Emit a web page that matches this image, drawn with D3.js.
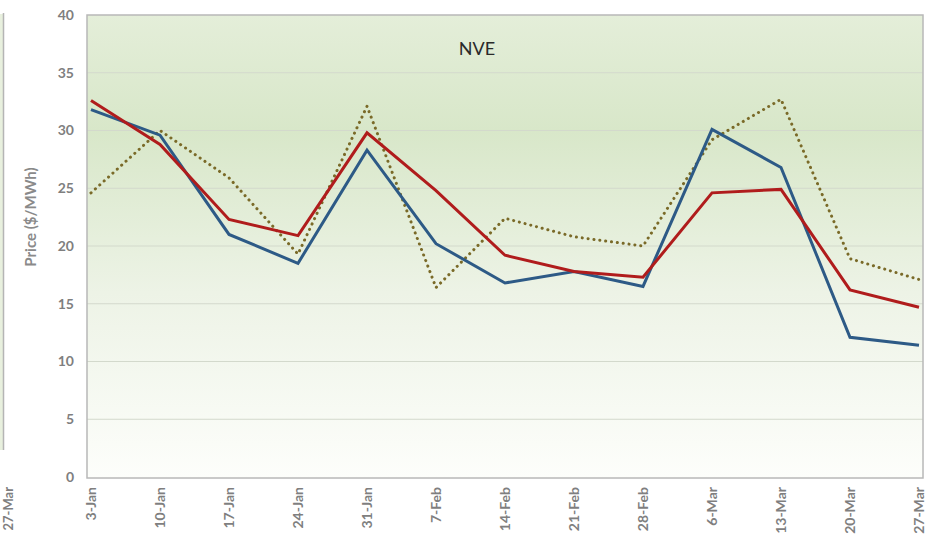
<!DOCTYPE html>
<html><head><meta charset="utf-8">
<script src="https://cdn.jsdelivr.net/npm/d3@7"></script>
<style>body{margin:0;background:#fff;overflow:hidden}svg{display:block}</style>
</head><body>
<svg id="c" width="932" height="540"></svg>
<script>
const categories = ["3-Jan","10-Jan","17-Jan","24-Jan","31-Jan","7-Feb","14-Feb","21-Feb","28-Feb","6-Mar","13-Mar","20-Mar","27-Mar"];
const blueSeries = [31.8,29.6,21.0,18.5,28.3,20.2,16.8,17.8,16.5,30.1,26.8,12.1,11.4];
const redSeries = [32.6,28.8,22.3,20.9,29.8,24.8,19.2,17.8,17.3,24.6,24.9,16.2,14.7];
const dottedSeries = [24.6,30.0,25.9,19.3,32.1,16.4,22.4,20.8,20.0,29.2,32.7,18.9,17.1];
const yTicks = [0,5,10,15,20,25,30,35,40];
const title = "NVE";
const yTitle = "Price ($/MWh)";

const svg = d3.select("#c");
const plot = {left:87, top:15, right:923, bottom:478};
const x = d3.scalePoint().domain(categories).range([91, 919]);
const y = d3.scaleLinear().domain([0,40]).range([477, 15]);
const font = "Lato, 'Open Sans', sans-serif";

// left fragment of neighbouring chart
svg.append("rect").attr("x",0).attr("y",14).attr("width",3).attr("height",436).attr("fill","#e8f0de");
svg.append("line").attr("x1",3.5).attr("x2",3.5).attr("y1",13).attr("y2",450).attr("stroke","#b5b5b5").attr("stroke-width",1.5);
svg.append("text").attr("transform","translate(8,487) rotate(-90)").attr("text-anchor","end")
  .attr("dy","0.35em").attr("font-family",font).attr("font-weight","bold").attr("font-size",13)
  .attr("fill","#7f7f7f").text("27-Mar");

const defs = svg.append("defs");
const g = defs.append("linearGradient").attr("id","bg").attr("x1",0).attr("x2",0).attr("y1",0).attr("y2",1);
g.append("stop").attr("offset","0%").attr("stop-color","#e4eed9");
g.append("stop").attr("offset","25%").attr("stop-color","#d8e7c9");
g.append("stop").attr("offset","60%").attr("stop-color","#edf3e6");
g.append("stop").attr("offset","100%").attr("stop-color","#fdfefb");

svg.append("rect").attr("x",plot.left).attr("y",plot.top)
  .attr("width",plot.right-plot.left).attr("height",plot.bottom-plot.top)
  .attr("fill","url(#bg)");

// gridlines
svg.append("g").selectAll("line").data(yTicks.filter(d=>d>0 && d<40)).join("line")
  .attr("x1",plot.left).attr("x2",plot.right)
  .attr("y1",d=>y(d)).attr("y2",d=>y(d))
  .attr("stroke","#d3d9cc").attr("stroke-width",1.2);

svg.append("rect").attr("x",plot.left).attr("y",plot.top)
  .attr("width",plot.right-plot.left).attr("height",plot.bottom-plot.top)
  .attr("fill","none").attr("stroke","#b8b8b8").attr("stroke-width",1.5);

// y axis
const yAxis = svg.append("g").attr("transform","translate(74,0)")
  .call(d3.axisLeft(y).tickValues(yTicks).tickSize(0).tickPadding(0));
yAxis.select(".domain").remove();
yAxis.selectAll("text").attr("font-family",font).attr("font-weight","bold")
  .attr("font-size",14).attr("fill","#7f7f7f");

// x axis
const xAxis = svg.append("g").attr("transform","translate(0,487)")
  .call(d3.axisBottom(x).tickSize(0).tickPadding(0));
xAxis.select(".domain").remove();
xAxis.selectAll("text").attr("font-family",font).attr("font-weight","bold")
  .attr("font-size",14).attr("fill","#7f7f7f")
  .attr("transform","rotate(-90)").attr("text-anchor","end")
  .attr("x",0).attr("y",0).attr("dy","0.35em").attr("dx","0");

// titles
svg.append("text").attr("x",477).attr("y",55).attr("text-anchor","middle")
  .attr("font-family",font).attr("font-size",18).attr("fill","#2a2a2a").text(title);
svg.append("text").attr("transform","translate(31,217) rotate(-90)").attr("text-anchor","middle")
  .attr("dy","0.35em").attr("font-family",font).attr("font-weight","bold").attr("font-size",15)
  .attr("fill","#8a8a8a").text(yTitle);

const line = d3.line().x((d,i)=>x(categories[i])).y(d=>y(d));
svg.append("path").datum(dottedSeries).attr("d",line).attr("fill","none")
  .attr("stroke","#7a6a28").attr("stroke-width",3).attr("stroke-dasharray","0.1 5.8")
  .attr("stroke-linecap","round");
svg.append("path").datum(blueSeries).attr("d",line).attr("fill","none")
  .attr("stroke","#2d5a86").attr("stroke-width",3).attr("stroke-linejoin","miter");
svg.append("path").datum(redSeries).attr("d",line).attr("fill","none")
  .attr("stroke","#b01c1c").attr("stroke-width",3).attr("stroke-linejoin","miter");
</script>
</body></html>
